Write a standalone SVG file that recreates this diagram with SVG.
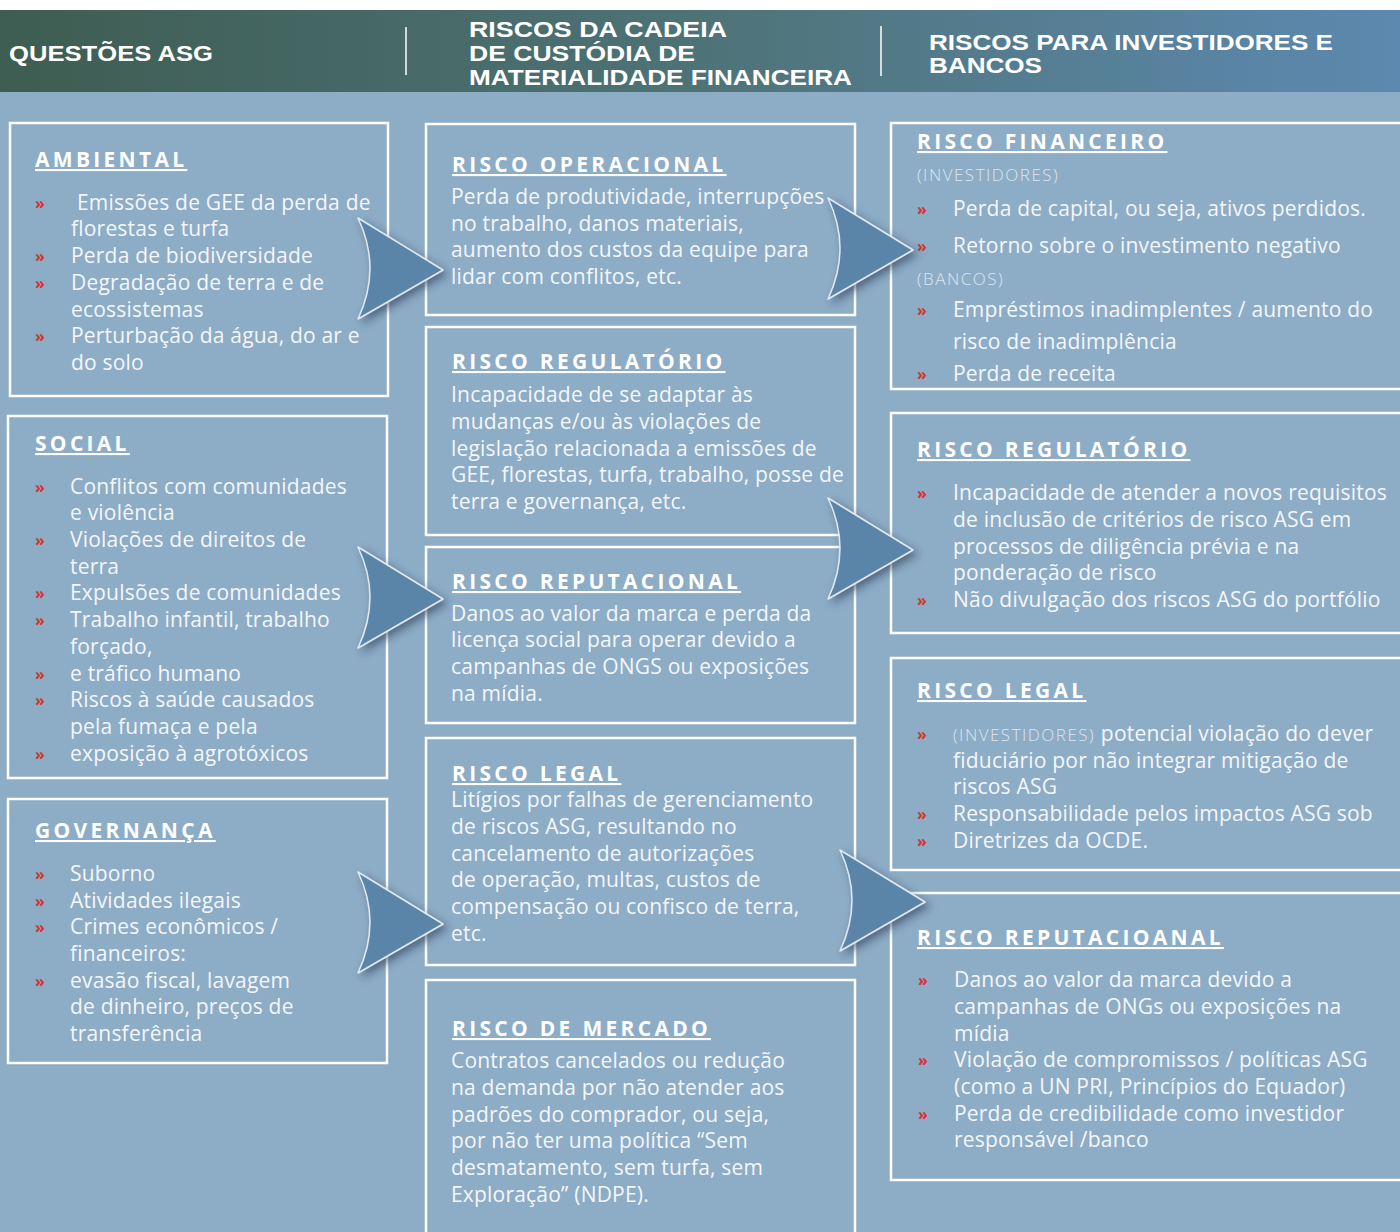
<svg xmlns="http://www.w3.org/2000/svg" width="1400" height="1232" viewBox="0 0 1400 1232">
<defs>
<linearGradient id="hg" x1="0" y1="0" x2="1" y2="0">
<stop offset="0" stop-color="#3e5d52"/>
<stop offset="0.5" stop-color="#4e7377"/>
<stop offset="1" stop-color="#5d89b0"/>
</linearGradient>
<filter id="sh" x="-30%" y="-30%" width="160%" height="160%">
<feDropShadow dx="4" dy="4" stdDeviation="4" flood-color="#1e3346" flood-opacity="0.55"/>
</filter>
<path id="arr" d="M0,0 L85,52 L0,101 Q24,50 0,0 Z"/>
</defs>
<style>
.box{fill:none;stroke:#ffffff;stroke-width:2.5}
.h{font-family:"Liberation Sans",Arial,sans-serif;font-weight:bold;font-size:22px;fill:#ffffff}
.t{font-family:"Open Sans","Noto Sans",sans-serif;font-weight:700;font-size:21px;letter-spacing:3.3px;fill:#ffffff;text-decoration:underline}
.b{font-family:"Open Sans","Noto Sans",sans-serif;font-size:21px;letter-spacing:0.2px;fill:#f4f7fa}
.m{font-family:"Open Sans","Noto Sans",sans-serif;fill:#d6322e;font-size:16px;font-weight:700}
.s{font-family:"Open Sans","Noto Sans",sans-serif;fill:#dde6ee;font-size:17px;letter-spacing:1.5px;font-weight:300}
.a{fill:#5a84a8;stroke:#e2eaf1;stroke-width:1.5;stroke-linejoin:round;filter:url(#sh)}
.dv{stroke:#ffffff;stroke-width:1.5}
</style>
<rect x="0" y="0" width="1400" height="1232" fill="#8dacc6"/>
<rect x="0" y="0" width="1400" height="10" fill="#ffffff"/>
<g id="header">
<rect x="0" y="10" width="1400" height="82" fill="url(#hg)"/>
<line class="dv" x1="406" y1="27" x2="406" y2="75"/>
<line class="dv" x1="881" y1="26" x2="881" y2="76"/>
<text class="h" x="9" y="61" textLength="204" lengthAdjust="spacingAndGlyphs">QUESTÕES ASG</text>
<text class="h" x="469" y="37" textLength="258" lengthAdjust="spacingAndGlyphs">RISCOS DA CADEIA</text>
<text class="h" x="469" y="61" textLength="226" lengthAdjust="spacingAndGlyphs">DE CUSTÓDIA DE</text>
<text class="h" x="469" y="85" textLength="383" lengthAdjust="spacingAndGlyphs">MATERIALIDADE FINANCEIRA</text>
<text class="h" x="929" y="50" textLength="404" lengthAdjust="spacingAndGlyphs">RISCOS PARA INVESTIDORES E</text>
<text class="h" x="929" y="73" textLength="113" lengthAdjust="spacingAndGlyphs">BANCOS</text>
</g>

<g id="ambiental">
<rect class="box" x="10" y="123" width="378" height="273"/>
<text class="t" x="35" y="167">AMBIENTAL</text>
<text class="m" x="35" y="209">»</text><text class="b" x="77" y="210">Emissões de GEE da perda de</text>
<text class="b" x="71" y="236">florestas e turfa</text>
<text class="m" x="35" y="262">»</text><text class="b" x="71" y="263">Perda de biodiversidade</text>
<text class="m" x="35" y="289">»</text><text class="b" x="71" y="290">Degradação de terra e de</text>
<text class="b" x="71" y="317">ecossistemas</text>
<text class="m" x="35" y="342">»</text><text class="b" x="71" y="343">Perturbação da água, do ar e</text>
<text class="b" x="71" y="370">do solo</text>
</g>

<g id="social">
<rect class="box" x="8" y="416" width="379" height="362"/>
<text class="t" x="35" y="451">SOCIAL</text>
<text class="m" x="35" y="493">»</text><text class="b" x="70" y="494">Conflitos com comunidades</text>
<text class="b" x="70" y="520">e violência</text>
<text class="m" x="35" y="546">»</text><text class="b" x="70" y="547">Violações de direitos de</text>
<text class="b" x="70" y="574">terra</text>
<text class="m" x="35" y="599">»</text><text class="b" x="70" y="600">Expulsões de comunidades</text>
<text class="m" x="35" y="626">»</text><text class="b" x="70" y="627">Trabalho infantil, trabalho</text>
<text class="b" x="70" y="654">forçado,</text>
<text class="m" x="35" y="680">»</text><text class="b" x="70" y="681">e tráfico humano</text>
<text class="m" x="35" y="706">»</text><text class="b" x="70" y="707">Riscos à saúde causados</text>
<text class="b" x="70" y="734">pela fumaça e pela</text>
<text class="m" x="35" y="760">»</text><text class="b" x="70" y="761">exposição à agrotóxicos</text>
</g>

<g id="governanca">
<rect class="box" x="8" y="799" width="379" height="264"/>
<text class="t" x="35" y="838">GOVERNANÇA</text>
<text class="m" x="35" y="880">»</text><text class="b" x="70" y="881">Suborno</text>
<text class="m" x="35" y="907">»</text><text class="b" x="70" y="908">Atividades ilegais</text>
<text class="m" x="35" y="933">»</text><text class="b" x="70" y="934">Crimes econômicos /</text>
<text class="b" x="70" y="961">financeiros:</text>
<text class="m" x="35" y="987">»</text><text class="b" x="70" y="988">evasão fiscal, lavagem</text>
<text class="b" x="70" y="1014">de dinheiro, preços de</text>
<text class="b" x="70" y="1041">transferência</text>
</g>

<g id="risco-operacional">
<rect class="box" x="426" y="124" width="429" height="191"/>
<text class="t" x="452" y="172">RISCO OPERACIONAL</text>
<text class="b" x="451" y="204">Perda de produtividade, interrupções</text>
<text class="b" x="451" y="231">no trabalho, danos materiais,</text>
<text class="b" x="451" y="257">aumento dos custos da equipe para</text>
<text class="b" x="451" y="284">lidar com conflitos, etc.</text>
</g>

<g id="risco-regulatorio-m">
<rect class="box" x="426" y="327" width="429" height="208"/>
<text class="t" x="452" y="369">RISCO REGULATÓRIO</text>
<text class="b" x="451" y="402">Incapacidade de se adaptar às</text>
<text class="b" x="451" y="429">mudanças e/ou às violações de</text>
<text class="b" x="451" y="456">legislação relacionada a emissões de</text>
<text class="b" x="451" y="482">GEE, florestas, turfa, trabalho, posse de</text>
<text class="b" x="451" y="509">terra e governança, etc.</text>
</g>

<g id="risco-reputacional-m">
<rect class="box" x="426" y="547" width="429" height="176"/>
<text class="t" x="452" y="589">RISCO REPUTACIONAL</text>
<text class="b" x="451" y="621">Danos ao valor da marca e perda da</text>
<text class="b" x="451" y="647">licença social para operar devido a</text>
<text class="b" x="451" y="674">campanhas de ONGS ou exposições</text>
<text class="b" x="451" y="701">na mídia.</text>
</g>

<g id="risco-legal-m">
<rect class="box" x="426" y="738" width="429" height="227"/>
<text class="t" x="452" y="781">RISCO LEGAL</text>
<text class="b" x="451" y="807">Litígios por falhas de gerenciamento</text>
<text class="b" x="451" y="834">de riscos ASG, resultando no</text>
<text class="b" x="451" y="861">cancelamento de autorizações</text>
<text class="b" x="451" y="887">de operação, multas, custos de</text>
<text class="b" x="451" y="914">compensação ou confisco de terra,</text>
<text class="b" x="451" y="941">etc.</text>
</g>

<g id="risco-mercado">
<rect class="box" x="426" y="980" width="429" height="262"/>
<text class="t" x="452" y="1036">RISCO DE MERCADO</text>
<text class="b" x="451" y="1068">Contratos cancelados ou redução</text>
<text class="b" x="451" y="1095">na demanda por não atender aos</text>
<text class="b" x="451" y="1122">padrões do comprador, ou seja,</text>
<text class="b" x="451" y="1148">por não ter uma política “Sem</text>
<text class="b" x="451" y="1175">desmatamento, sem turfa, sem</text>
<text class="b" x="451" y="1202">Exploração” (NDPE).</text>
</g>

<g id="risco-financeiro">
<rect class="box" x="891" y="123" width="520" height="266"/>
<text class="t" x="917" y="149">RISCO FINANCEIRO</text>
<text class="s" x="917" y="181">(INVESTIDORES)</text>
<text class="m" x="917" y="215">»</text><text class="b" x="953" y="216">Perda de capital, ou seja, ativos perdidos.</text>
<text class="m" x="917" y="252">»</text><text class="b" x="953" y="253">Retorno sobre o investimento negativo</text>
<text class="s" x="917" y="285">(BANCOS)</text>
<text class="m" x="917" y="316">»</text><text class="b" x="953" y="317">Empréstimos inadimplentes / aumento do</text>
<text class="b" x="953" y="349">risco de inadimplência</text>
<text class="m" x="917" y="380">»</text><text class="b" x="953" y="381">Perda de receita</text>
</g>

<g id="risco-regulatorio-r">
<rect class="box" x="891" y="413" width="520" height="220"/>
<text class="t" x="917" y="457">RISCO REGULATÓRIO</text>
<text class="m" x="917" y="499">»</text><text class="b" x="953" y="500">Incapacidade de atender a novos requisitos</text>
<text class="b" x="953" y="527">de inclusão de critérios de risco ASG em</text>
<text class="b" x="953" y="554">processos de diligência prévia e na</text>
<text class="b" x="953" y="580">ponderação de risco</text>
<text class="m" x="917" y="606">»</text><text class="b" x="953" y="607">Não divulgação dos riscos ASG do portfólio</text>
</g>

<g id="risco-legal-r">
<rect class="box" x="891" y="658" width="520" height="212"/>
<text class="t" x="917" y="698">RISCO LEGAL</text>
<text class="m" x="917" y="740">»</text><text x="953" y="741"><tspan class="s">(INVESTIDORES)</tspan><tspan class="b"> potencial violação do dever</tspan></text>
<text class="b" x="953" y="768">fiduciário por não integrar mitigação de</text>
<text class="b" x="953" y="794">riscos ASG</text>
<text class="m" x="917" y="820">»</text><text class="b" x="953" y="821">Responsabilidade pelos impactos ASG sob</text>
<text class="m" x="917" y="847">»</text><text class="b" x="953" y="848">Diretrizes da OCDE.</text>
</g>

<g id="risco-reputacional-r">
<rect class="box" x="891" y="893" width="520" height="287"/>
<text class="t" x="917" y="945">RISCO REPUTACIOANAL</text>
<text class="m" x="918" y="986">»</text><text class="b" x="954" y="987">Danos ao valor da marca devido a</text>
<text class="b" x="954" y="1014">campanhas de ONGs ou exposições na</text>
<text class="b" x="954" y="1041">mídia</text>
<text class="m" x="918" y="1066">»</text><text class="b" x="954" y="1067">Violação de compromissos / políticas ASG</text>
<text class="b" x="954" y="1094">(como a UN PRI, Princípios do Equador)</text>
<text class="m" x="918" y="1120">»</text><text class="b" x="954" y="1121">Perda de credibilidade como investidor</text>
<text class="b" x="954" y="1147">responsável /banco</text>
</g>

<g id="connectors">
<use href="#arr" class="a" x="358" y="218"/>
<use href="#arr" class="a" x="358" y="547"/>
<use href="#arr" class="a" x="358" y="872"/>
<use href="#arr" class="a" x="828" y="198"/>
<use href="#arr" class="a" x="828" y="498"/>
<use href="#arr" class="a" x="840" y="850"/>
</g>
</svg>
